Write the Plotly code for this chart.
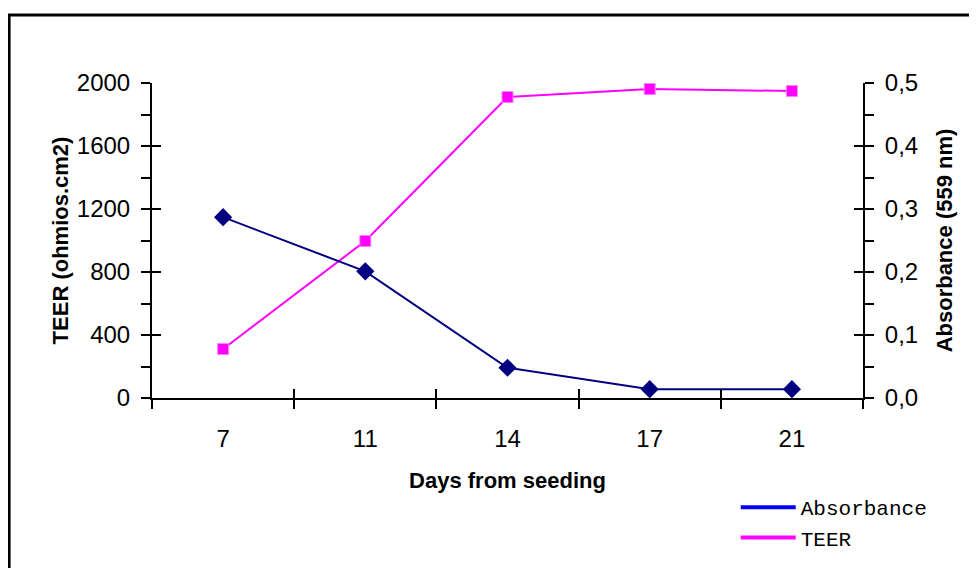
import plotly.graph_objects as go

# data
days = ["7", "11", "14", "17", "21"]
teer = [311, 997, 1911, 1962, 1949]            # ohm.cm2, left axis
absorbance = [0.287, 0.201, 0.048, 0.014, 0.014]  # 559 nm, right axis

NAVY = "#000080"
MAGENTA = "#FF00FF"
FONT = "Liberation Sans, Arial, sans-serif"

fig = go.Figure()

# main series
fig.add_trace(go.Scatter(
    x=days, y=absorbance, yaxis="y2", mode="lines+markers",
    line=dict(color=NAVY, width=2),
    marker=dict(symbol="diamond", size=14, color=NAVY),
    showlegend=False,
))
fig.add_trace(go.Scatter(
    x=days, y=teer, mode="lines+markers",
    line=dict(color=MAGENTA, width=2),
    marker=dict(symbol="square", size=11, color=MAGENTA,
                line=dict(color="#ff80ff", width=1)),
    showlegend=False,
))

# invisible traces so the overlay axes (inner half of the cross ticks) get drawn
fig.add_trace(go.Scatter(x=days, y=teer, xaxis="x2", yaxis="y3", mode="markers",
                         marker=dict(opacity=0), hoverinfo="skip", showlegend=False))
fig.add_trace(go.Scatter(x=days, y=absorbance, xaxis="x2", yaxis="y4", mode="markers",
                         marker=dict(opacity=0), hoverinfo="skip", showlegend=False))

# legend entries (legend uses a brighter blue than the plotted line)
fig.add_trace(go.Scatter(x=[None], y=[None], mode="lines", name="Absorbance",
                         line=dict(color="#0000FF", width=4)))
fig.add_trace(go.Scatter(x=[None], y=[None], mode="lines", name="TEER",
                         line=dict(color=MAGENTA, width=4)))

tickfont = dict(family=FONT, size=24, color="black")
titlefont = dict(family=FONT, size=22, color="black", weight="bold")

fig.update_layout(
    width=977, height=568,
    margin=dict(l=144, r=122, t=75, b=178),
    paper_bgcolor="white", plot_bgcolor="white",
    separators=",.",
    font=dict(family=FONT, color="black"),
    xaxis=dict(
        type="category", categoryarray=days, range=[-0.5, 4.5],
        showline=True, linecolor="black", linewidth=2,
        ticks="outside", ticklen=9, tickwidth=2, tickcolor="black",
        tickson="boundaries", showgrid=False, zeroline=False,
        tickfont=tickfont, ticklabelstandoff=18,
        title=dict(text="Days from seeding", font=titlefont, standoff=22),
    ),
    xaxis2=dict(
        type="category", categoryarray=days, range=[-0.5, 4.5],
        overlaying="x", anchor="y3", showline=False,
        ticks="inside", ticklen=9, tickwidth=2, tickcolor="black",
        tickson="boundaries", showgrid=False, zeroline=False,
        showticklabels=False,
    ),
    yaxis=dict(
        range=[0, 2000], dtick=400, tickformat="d",
        showline=True, linecolor="black", linewidth=2,
        ticks="outside", ticklen=9, tickwidth=2, tickcolor="black",
        minor=dict(ticks="outside", ticklen=9, tickwidth=2, tickcolor="black", dtick=200),
        showgrid=False, zeroline=False,
        tickfont=tickfont, ticklabelstandoff=6,
        title=dict(text="TEER (ohmios.cm2)", font=titlefont, standoff=2),
    ),
    yaxis2=dict(
        range=[0, 0.5], dtick=0.1, tickformat=".1f",
        overlaying="y", side="right", anchor="x",
        showline=True, linecolor="black", linewidth=2,
        ticks="outside", ticklen=9, tickwidth=2, tickcolor="black",
        minor=dict(ticks="outside", ticklen=9, tickwidth=2, tickcolor="black", dtick=0.05),
        showgrid=False, zeroline=False,
        tickfont=tickfont, ticklabelstandoff=6,
        title=dict(text="Absorbance (559 nm)", font=titlefont, standoff=19),
    ),
    yaxis3=dict(
        range=[0, 2000], dtick=400, overlaying="y", side="left", anchor="x2",
        ticks="inside", ticklen=9, tickwidth=2, tickcolor="black",
        showline=False, showgrid=False, zeroline=False, showticklabels=False,
    ),
    yaxis4=dict(
        range=[0, 0.5], dtick=0.1, overlaying="y", side="right", anchor="x2",
        ticks="inside", ticklen=9, tickwidth=2, tickcolor="black",
        showline=False, showgrid=False, zeroline=False, showticklabels=False,
    ),
    legend=dict(
        x=0.821, y=-0.283, xanchor="left", yanchor="top",
        font=dict(family="Liberation Mono, Courier New, monospace", size=21, color="black"),
        bgcolor="rgba(0,0,0,0)", tracegroupgap=0, itemwidth=55,
    ),
)

# chart-area frame (right and bottom edges fall outside the picture)
fig.add_shape(type="rect", xref="paper", yref="paper",
              x0=-0.201, x1=1.3, y0=-0.7, y1=1.216,
              line=dict(color="black", width=3), layer="below")

fig.write_html("out.html")
